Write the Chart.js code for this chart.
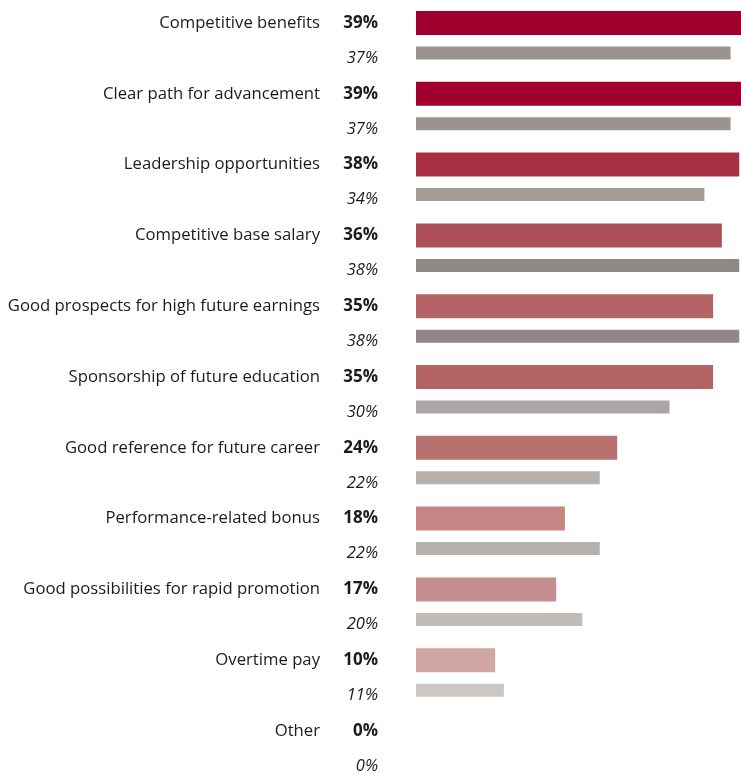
<!DOCTYPE html>
<html>
<head>
<meta charset="utf-8">
<script src="https://cdn.jsdelivr.net/npm/chart.js@4/dist/chart.umd.min.js"></script>
<style>
  html, body { margin: 0; padding: 0; background: #fff; }
  #wrap { position: relative; width: 741px; height: 772px; }
</style>
</head>
<body>
<div id="wrap"><canvas id="chart"></canvas></div>
<script>
const categories = [
  "Competitive benefits",
  "Clear path for advancement",
  "Leadership opportunities",
  "Competitive base salary",
  "Good prospects for high future earnings",
  "Sponsorship of future education",
  "Good reference for future career",
  "Performance-related bonus",
  "Good possibilities for rapid promotion",
  "Overtime pay",
  "Other",
];

// current survey (bold) and previous survey (italic), in percent
const current = [39, 39, 38, 36, 35, 35, 24, 18, 17, 10, 0];
const previous = [37, 37, 34, 38, 38, 30, 22, 22, 20, 11, 0];

const currentColors = [
  "#a1002f", "#a1002f", "#a93043", "#ad4f56", "#b46465", "#b46465",
  "#b7716f", "#c48584", "#c48f8e", "#d0a7a3", "#d8bcb8",
];
const previousColors = [
  "#9b9390", "#9b9390", "#a39e9a", "#908886", "#908886", "#aba6a3",
  "#b6b1ad", "#b6b1ad", "#c1bcb9", "#cbc7c4", "#d5d2cf",
];

const TEXT = "#1e1a1b";
const FONT = "'Open Sans', 'Noto Sans', sans-serif";

// names and percentages drawn to the left of each bar pair
const rowLabels = {
  id: "rowLabels",
  afterDatasetsDraw(chart) {
    const ctx = chart.ctx;
    const cur = chart.getDatasetMeta(0).data;
    const prev = chart.getDatasetMeta(1).data;
    ctx.save();
    ctx.fillStyle = TEXT;
    ctx.textAlign = "right";
    ctx.textBaseline = "middle";
    categories.forEach((name, i) => {
      const y1 = cur[i].y;
      const y2 = prev[i].y;
      ctx.font = `16.7px ${FONT}`;
      ctx.fillText(name, 320, y1);
      ctx.font = `bold 17px ${FONT}`;
      ctx.fillText(`${current[i]}%`, 378, y1);
      ctx.font = `italic 16.5px ${FONT}`;
      ctx.fillText(`${previous[i]}%`, 378, y2 + 5);
    });
    ctx.restore();
  },
};

new Chart(document.getElementById("chart"), {
  type: "bar",
  data: {
    labels: categories,
    datasets: [
      {
        label: "current",
        data: current,
        backgroundColor: currentColors,
        barPercentage: 0.8,
        categoryPercentage: 0.8475,
        clip: { left: -8, right: false, top: false, bottom: false },
      },
      {
        label: "previous",
        data: previous,
        backgroundColor: previousColors,
        barPercentage: 0.8,
        categoryPercentage: 0.8475,
        maxBarThickness: 13,
        clip: { left: -8, right: false, top: false, bottom: false },
      },
    ],
  },
  options: {
    indexAxis: "y",
    responsive: true,
    maintainAspectRatio: false,
    animation: false,
    layout: { padding: { left: 408, right: 0, top: 38, bottom: 26 } },
    scales: {
      x: { display: false, min: 0, max: 38.2 },
      y: { display: false, offset: false, grid: { offset: false } },
    },
    plugins: {
      legend: { display: false },
      tooltip: { enabled: false },
    },
  },
  plugins: [rowLabels],
});
</script>
</body>
</html>
